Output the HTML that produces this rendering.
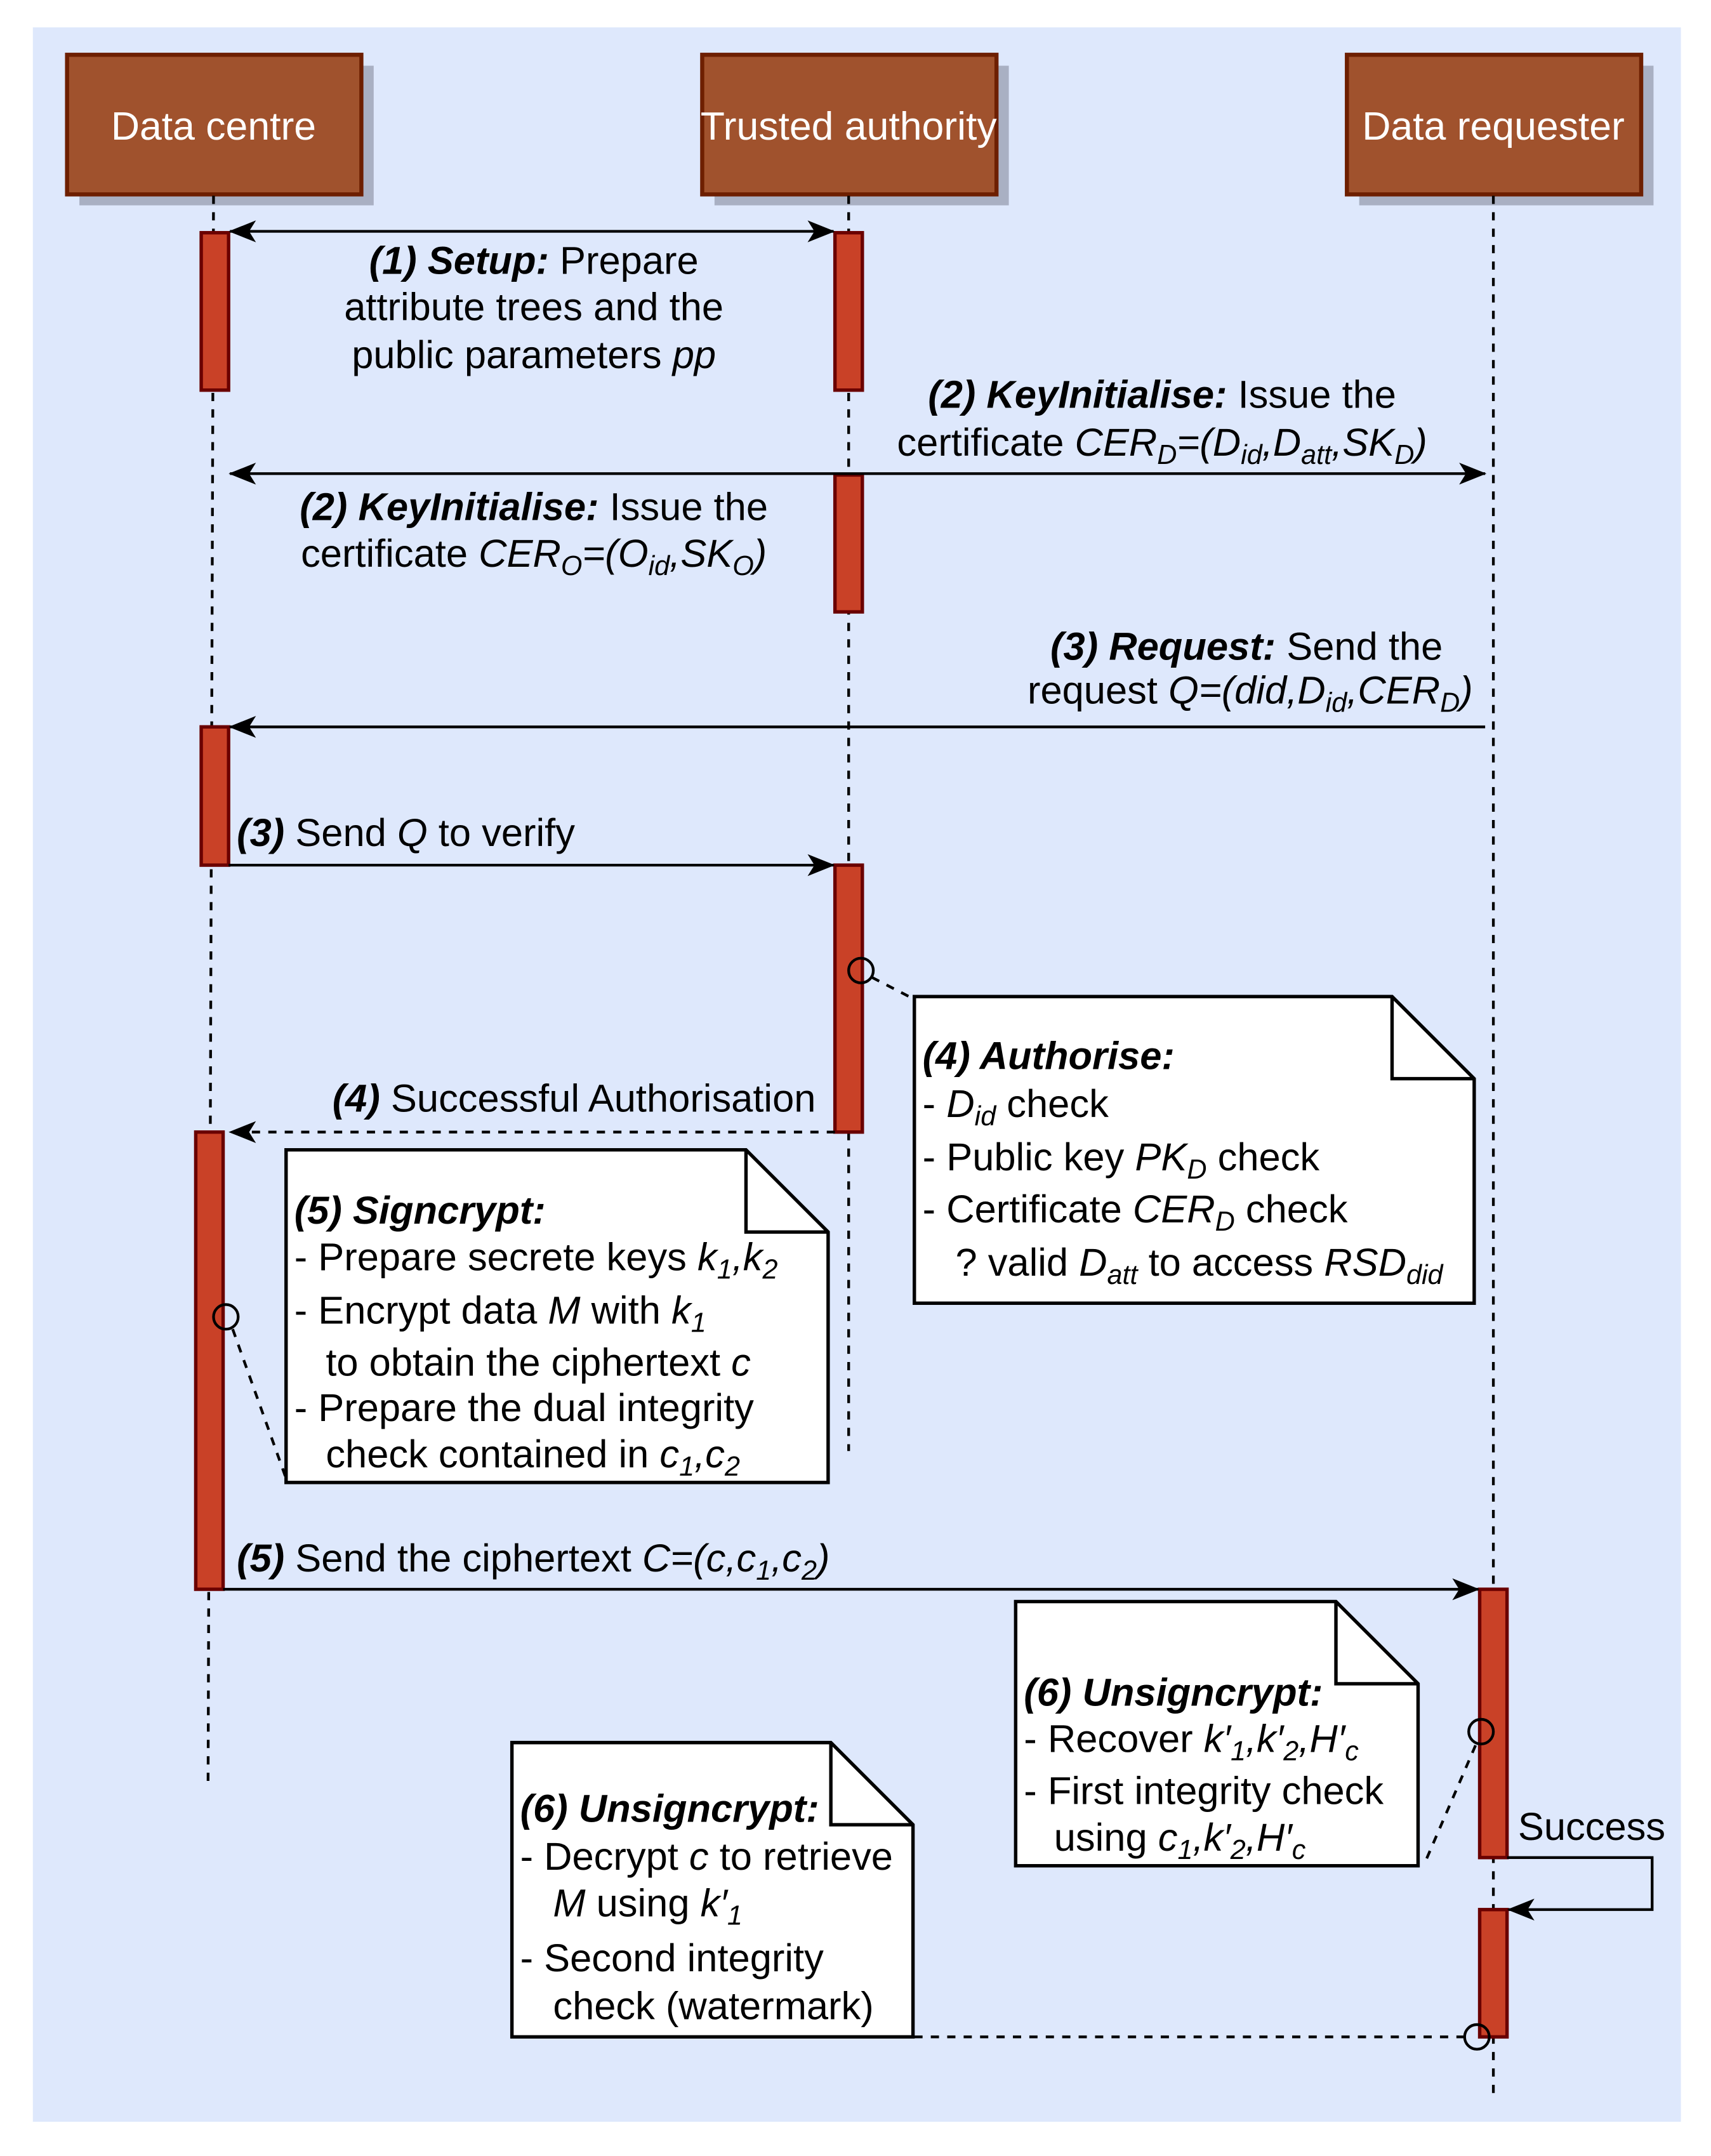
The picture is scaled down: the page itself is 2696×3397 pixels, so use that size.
<!DOCTYPE html>
<html><head><meta charset="utf-8"><style>
html,body{margin:0;padding:0;background:#fff}
svg{display:block}
text{font-family:"Liberation Sans",Arial,sans-serif;font-size:28.5px;fill:#000}
.b{font-weight:bold;font-style:italic}
.i{font-style:italic}
.s{font-size:20px;font-style:italic}
</style></head><body>
<svg width="2696" height="3397" viewBox="0 0 1250 1575" xmlns="http://www.w3.org/2000/svg">
<defs>
<marker id="ah" viewBox="0 0 20 20" refX="19" refY="10" markerWidth="20" markerHeight="20" markerUnits="userSpaceOnUse" orient="auto-start-reverse">
<path d="M0,2 L20,10 L0,18 L5,10 Z" fill="#000"/></marker>
</defs>
<rect x="0" y="0" width="1250" height="1575" fill="#fff"/>
<rect x="24" y="20" width="1204" height="1530" fill="#dee8fc"/>
<g>
<rect x="58" y="48" width="215" height="102" fill="#a9b0c3"/>
<rect x="49" y="40" width="215" height="102" fill="#a0522d" stroke="#6d1f00" stroke-width="3"/>
<text x="156" y="102" text-anchor="middle" style="fill:#fff;font-size:29px">Data centre</text>
<rect x="522" y="48" width="215" height="102" fill="#a9b0c3"/>
<rect x="513" y="40" width="215" height="102" fill="#a0522d" stroke="#6d1f00" stroke-width="3"/>
<text x="620" y="102" text-anchor="middle" style="fill:#fff;font-size:29px">Trusted authority</text>
<rect x="993" y="48" width="215" height="102" fill="#a9b0c3"/>
<rect x="984" y="40" width="215" height="102" fill="#a0522d" stroke="#6d1f00" stroke-width="3"/>
<text x="1091" y="102" text-anchor="middle" style="fill:#fff;font-size:29px">Data requester</text>
</g>
<g stroke="#000" stroke-width="2" stroke-dasharray="6,6" fill="none">
<line x1="156" y1="143" x2="152" y2="1305"/>
<line x1="620" y1="143" x2="620" y2="1060"/>
<line x1="1091" y1="143" x2="1091" y2="1530"/>
</g>
<g fill="#c94127" stroke="#6a0000" stroke-width="2.5">
<rect x="147" y="170" width="20" height="115"/>
<rect x="147" y="531" width="20" height="101"/>
<rect x="143" y="827" width="20" height="334"/>
<rect x="610" y="170" width="20" height="115"/>
<rect x="610" y="347" width="20" height="100"/>
<rect x="610" y="632" width="20" height="195"/>
<rect x="1081" y="1161" width="20" height="196"/>
<rect x="1081" y="1395" width="20" height="93"/>
</g>
<g stroke="#000" stroke-width="2" fill="none">
<line x1="168" y1="169" x2="609" y2="169" marker-start="url(#ah)" marker-end="url(#ah)"/>
<line x1="168" y1="346" x2="1085" y2="346" marker-start="url(#ah)" marker-end="url(#ah)"/>
<line x1="1085" y1="531" x2="168" y2="531" marker-end="url(#ah)"/>
<line x1="167" y1="632" x2="609" y2="632" marker-end="url(#ah)"/>
<line x1="610" y1="827" x2="168" y2="827" stroke-dasharray="6,6" marker-end="url(#ah)"/>
<line x1="163" y1="1161" x2="1080" y2="1161" marker-end="url(#ah)"/>
<polyline points="1101,1357 1207,1357 1207,1395 1102,1395" marker-end="url(#ah)"/>
</g>
<g fill="#fff" stroke="#000" stroke-width="2.5">
<path d="M668,728 H1017 L1077,788 V952 H668 Z"/>
<path d="M1017,728 V788 H1077" fill="none"/>
<path d="M209,840 H545 L605,900 V1083 H209 Z"/>
<path d="M545,840 V900 H605" fill="none"/>
<path d="M742,1170 H976 L1036,1230 V1363 H742 Z"/>
<path d="M976,1170 V1230 H1036" fill="none"/>
<path d="M374,1273 H607 L667,1333 V1488 H374 Z"/>
<path d="M607,1273 V1333 H667" fill="none"/>
</g>
<g stroke="#000" stroke-width="2" fill="none">
<line x1="637" y1="714" x2="668" y2="730" stroke-dasharray="6,6"/>
<line x1="170" y1="971" x2="209" y2="1080" stroke-dasharray="6,6"/>
<line x1="1078" y1="1275" x2="1040" y2="1363" stroke-dasharray="6,6"/>
<line x1="1070" y1="1488" x2="667" y2="1488" stroke-dasharray="6,6"/>
<circle cx="629" cy="709" r="9"/>
<circle cx="165" cy="962" r="9"/>
<circle cx="1082" cy="1265" r="9"/>
<circle cx="1079" cy="1488" r="9"/>
</g>
<text x="390" y="200" text-anchor="middle"><tspan class="b">(1) Setup:</tspan> Prepare</text>
<text x="390" y="234" text-anchor="middle">attribute trees and the</text>
<text x="390" y="269" text-anchor="middle">public parameters <tspan class="i">pp</tspan></text>

<text x="849" y="298" text-anchor="middle"><tspan class="b">(2) KeyInitialise:</tspan> Issue the</text>
<text x="849" y="333" text-anchor="middle">certificate <tspan class="i">CER<tspan class="s" dy="6">D</tspan><tspan dy="-6">=(D</tspan><tspan class="s" dy="6">id</tspan><tspan dy="-6">,D</tspan><tspan class="s" dy="6">att</tspan><tspan dy="-6">,SK</tspan><tspan class="s" dy="6">D</tspan><tspan dy="-6">)</tspan></tspan></text>

<text x="390" y="380" text-anchor="middle"><tspan class="b">(2) KeyInitialise:</tspan> Issue the</text>
<text x="390" y="414" text-anchor="middle">certificate <tspan class="i">CER<tspan class="s" dy="6">O</tspan><tspan dy="-6">=(O</tspan><tspan class="s" dy="6">id</tspan><tspan dy="-6">,SK</tspan><tspan class="s" dy="6">O</tspan><tspan dy="-6">)</tspan></tspan></text>

<text x="1054" y="482" text-anchor="end"><tspan class="b">(3) Request:</tspan> Send the</text>
<text x="1076" y="514" text-anchor="end">request <tspan class="i">Q=(did,D<tspan class="s" dy="6">id</tspan><tspan dy="-6">,CER</tspan><tspan class="s" dy="6">D</tspan><tspan dy="-6">)</tspan></tspan></text>

<text x="173" y="618"><tspan class="b">(3)</tspan> Send <tspan class="i">Q</tspan> to verify</text>
<text x="596" y="812" text-anchor="end"><tspan class="b">(4)</tspan> Successful Authorisation</text>

<text x="674" y="781"><tspan class="b">(4) Authorise:</tspan></text>
<text x="674" y="816">- <tspan class="i">D<tspan class="s" dy="6">id</tspan></tspan><tspan dy="-6"> check</tspan></text>
<text x="674" y="855">- Public key <tspan class="i">PK<tspan class="s" dy="6">D</tspan></tspan><tspan dy="-6"> check</tspan></text>
<text x="674" y="893">- Certificate <tspan class="i">CER<tspan class="s" dy="6">D</tspan></tspan><tspan dy="-6"> check</tspan></text>
<text x="698" y="932">? valid <tspan class="i">D<tspan class="s" dy="6">att</tspan></tspan><tspan dy="-6"> to access </tspan><tspan class="i">RSD<tspan class="s" dy="6">did</tspan></tspan></text>

<text x="215" y="894"><tspan class="b">(5) Signcrypt:</tspan></text>
<text x="215" y="928">- Prepare secrete keys <tspan class="i">k<tspan class="s" dy="6">1</tspan><tspan dy="-6">,k</tspan><tspan class="s" dy="6">2</tspan></tspan></text>
<text x="215" y="967">- Encrypt data <tspan class="i">M</tspan> with <tspan class="i">k<tspan class="s" dy="6">1</tspan></tspan></text>
<text x="238" y="1005">to obtain the ciphertext  <tspan class="i">c</tspan></text>
<text x="215" y="1038">- Prepare the dual integrity</text>
<text x="238" y="1072">check contained in <tspan class="i">c<tspan class="s" dy="6">1</tspan><tspan dy="-6">,c</tspan><tspan class="s" dy="6">2</tspan></tspan></text>

<text x="173" y="1148"><tspan class="b">(5)</tspan> Send the ciphertext <tspan class="i">C=(c,c<tspan class="s" dy="6">1</tspan><tspan dy="-6">,c</tspan><tspan class="s" dy="6">2</tspan><tspan dy="-6">)</tspan></tspan></text>

<text x="748" y="1246"><tspan class="b">(6) Unsigncrypt:</tspan></text>
<text x="748" y="1280">- Recover <tspan class="i">k′<tspan class="s" dy="6">1</tspan><tspan dy="-6">,k′</tspan><tspan class="s" dy="6">2</tspan><tspan dy="-6">,H′</tspan><tspan class="s" dy="6">c</tspan></tspan></text>
<text x="748" y="1318">- First integrity check</text>
<text x="770" y="1352">using <tspan class="i">c<tspan class="s" dy="6">1</tspan><tspan dy="-6">,k′</tspan><tspan class="s" dy="6">2</tspan><tspan dy="-6">,H′</tspan><tspan class="s" dy="6">c</tspan></tspan></text>

<text x="1109" y="1344">Success</text>

<text x="380" y="1331"><tspan class="b">(6) Unsigncrypt:</tspan></text>
<text x="380" y="1366">- Decrypt <tspan class="i">c</tspan> to retrieve</text>
<text x="404" y="1400"><tspan class="i">M</tspan> using <tspan class="i">k′<tspan class="s" dy="6">1</tspan></tspan></text>
<text x="380" y="1440">- Second integrity</text>
<text x="404" y="1475">check (watermark)</text>
</svg>
</body></html>
